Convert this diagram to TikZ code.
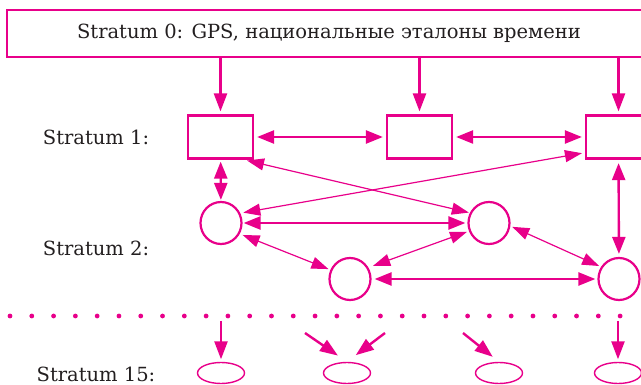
\documentclass[tikz,border=0pt]{standalone}
\usepackage{fontspec}
\setmainfont{DejaVu Serif}
\usetikzlibrary{arrows.meta,shapes.geometric}
\definecolor{strat}{RGB}{232,0,138}
\definecolor{ink}{RGB}{35,31,32}

\begin{document}
\begin{tikzpicture}[x=1pt,y=-1pt,
  every node/.style={text=ink,font=\fontsize{19.5}{22}\selectfont},
  box/.style={draw=strat,line width=2.2pt,minimum width=65pt,minimum height=43pt,inner sep=0pt},
  srv/.style={draw=strat,line width=2.2pt,ellipse,minimum width=41pt,minimum height=42pt,inner sep=0pt},
  leaf/.style={draw=strat,line width=1.4pt,ellipse,minimum width=47pt,minimum height=21pt,inner sep=0pt},
  both/.style={strat,line width=2.4pt,{Triangle[length=17pt,width=13pt]}-{Triangle[length=17pt,width=13pt]}},
  cross/.style={strat,line width=1.2pt,{Triangle[length=17pt,width=12pt]}-{Triangle[length=17pt,width=12pt]}},
  down/.style={strat,line width=2.4pt,-{Triangle[length=18pt,width=13pt]}}]
\useasboundingbox (0,0) rectangle (641,385);
\clip (0,0) rectangle (641,385);

\node[box,minimum width=644pt,minimum height=47pt] (top) at (329,33.5)
  {Stratum 0: GPS, национальные эталоны времени};

% Stratum 1
\node (lbl1) at (96,137) {Stratum 1:};
\node[box] (s1a) at (220.5,137) {};
\node[box] (s1b) at (419.5,137) {};
\node[box] (s1c) at (618.5,137) {};

% Stratum 2
\node (lbl2) at (96,248) {Stratum 2:};
\node[srv] (s2a) at (221,223) {};
\node[srv] (s2b) at (489,223) {};
\node[srv] (s2c) at (350,279) {};
\node[srv] (s2d) at (619,279) {};

% Stratum 15
\node (lbl15) at (96,374) {Stratum 15:};
\node[leaf] (l1) at (221,373) {};
\node[leaf] (l2) at (347,373) {};
\node[leaf] (l3) at (499,373) {};
\node[leaf] (l4) at (618,373) {};
\coordinate (t1) at (221,321);
\coordinate (t2) at (305,333);
\coordinate (t3) at (385,333);
\coordinate (t4) at (463,333);
\coordinate (t5) at (618,321);

\draw[down,shorten >=3pt] (top.south -| s1a) -- (s1a.north);
\draw[down,shorten >=3pt] (top.south -| s1b) -- (s1b.north);
\draw[down,shorten >=3pt] (top.south -| s1c) -- (s1c.north);

\draw[both,shorten <=3pt,shorten >=3pt] (s1a) -- (s1b);
\draw[both,shorten <=3pt,shorten >=3pt] (s1b) -- (s1c);
\draw[both,shorten <=2pt,shorten >=1pt] (s1a) -- (s2a);
\draw[both,shorten <=3.5pt,shorten >=3pt] (s1c) -- (s2d);
\draw[cross,shorten <=4pt,shorten >=1pt] (s1a.-45) -- (s2b.152);
\draw[cross,shorten <=3pt,shorten >=3pt] (s1c.205) -- (s2a.27);

\draw[both,shorten <=1pt,shorten >=2pt] (s2a) -- (s2b);
\draw[both,shorten <=3pt,shorten >=2pt] (s2c) -- (s2d);
\draw[cross,shorten <=3pt,shorten >=2pt] (s2a.-30) -- (s2c.155);
\draw[cross,shorten <=5pt,shorten >=2pt] (s2c.32) -- (s2b.202);
\draw[cross,shorten <=2pt,shorten >=2pt] (s2b.-8) -- (s2d.146);

\draw[strat,line width=4.8pt,line cap=round,dash pattern=on 0pt off 21.79pt] (10,316) -- (621,316);

\draw[down,shorten >=2.5pt] (t1) -- (l1.north);
\draw[down,shorten >=11pt] (t2) -- (l2.north);
\draw[down,shorten >=11pt] (t3) -- (l2.north);
\draw[down,shorten >=8pt] (t4) -- (l3.north);
\draw[down,shorten >=2.5pt] (t5) -- (l4.north);
\end{tikzpicture}
\end{document}
